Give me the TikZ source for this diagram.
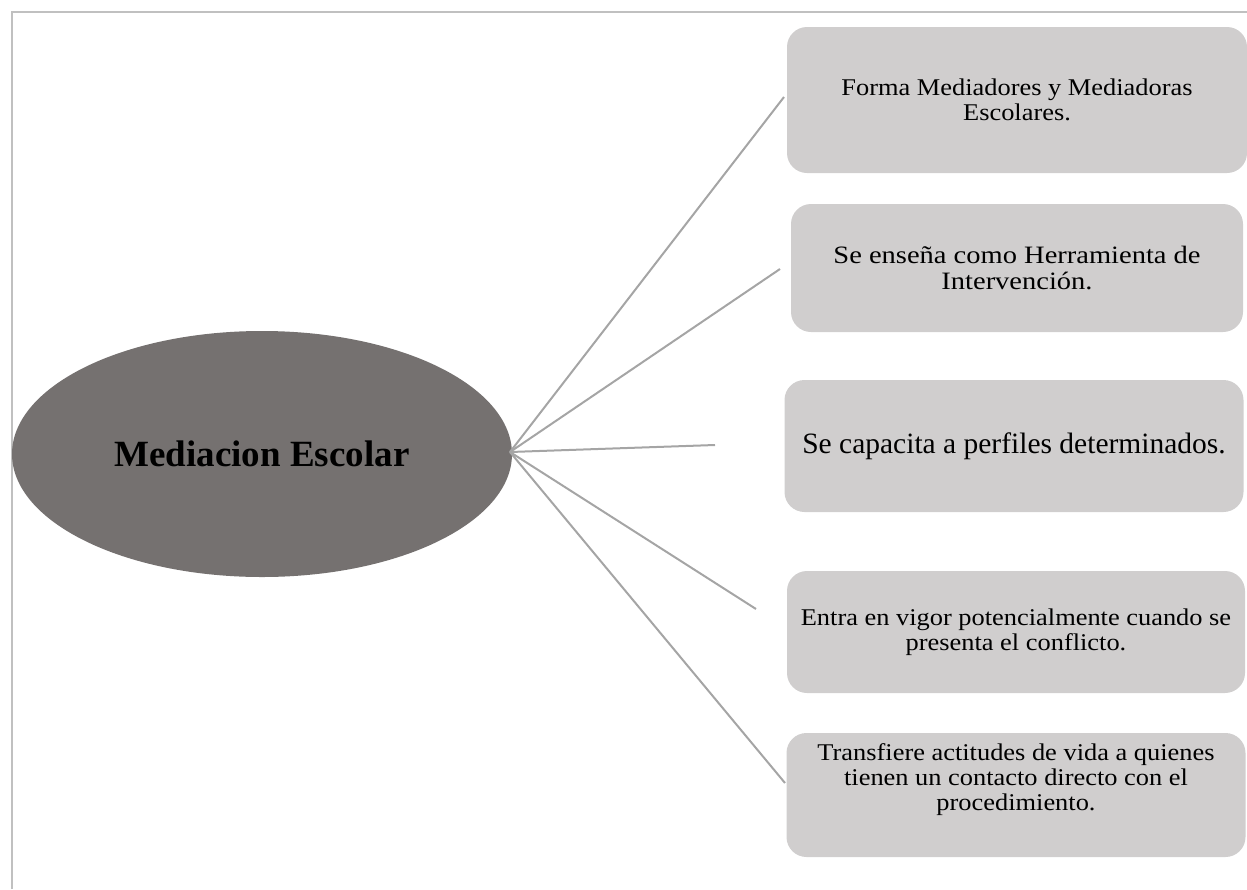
\documentclass[tikz,border=0pt]{standalone}
\usepackage{fontspec}
\setmainfont{Liberation Serif}
\newfontfamily\wideserif[FakeStretch=1.1]{Liberation Serif}
\newfontfamily\widerserif[FakeStretch=1.14]{Liberation Serif}
\usetikzlibrary{shapes.geometric}

\definecolor{hubgray}{HTML}{757170}
\definecolor{boxgray}{HTML}{D0CECE}
\definecolor{linegray}{HTML}{A5A5A5}
\definecolor{framegray}{HTML}{C0C0C0}

\tikzset{
  itembox/.style={fill=boxgray, rounded corners=20pt, inner sep=0pt, align=center,
                  font=\wideserif\fontsize{24}{25.5}\selectfont},
  spoke/.style={draw=linegray, line width=2pt}
}

\begin{document}
\begin{tikzpicture}[x=1pt, y=-1pt]
        \useasboundingbox (0,0) rectangle (1247,889);
        \draw [framegray, line width=2pt] (12,889) -- (12,12) -- (1247,12);

        \node [ellipse, fill=hubgray, inner sep=0pt, minimum width=500pt, minimum height=246pt,
               font=\fontsize{37}{40}\selectfont\bfseries] (med) at (262,454) {Mediacion Escolar};

        \node [itembox, minimum width=460pt, minimum height=146pt] (forma) at (1017,100)
              {Forma Mediadores y Mediadoras\\Escolares.};
        \node [itembox, minimum width=452pt, minimum height=128pt,
               font=\widerserif\fontsize{25}{25.5}\selectfont] (ensena) at (1017,268)
              {Se enseña como Herramienta de\\Intervención.};
        \node [itembox, minimum width=459pt, minimum height=132pt,
               font=\fontsize{29.5}{30}\selectfont] (capacita) at (1014,446)
              {Se capacita a perfiles determinados.};
        \node [itembox, minimum width=458pt, minimum height=122pt] (vigor) at (1016,632)
              {Entra en vigor potencialmente cuando se\\presenta el conflicto.};
        \node [itembox, minimum width=459pt, minimum height=124pt] (transf) at (1016,795) {};
        \node [align=center, font=\wideserif\fontsize{24}{25}\selectfont] (transftxt) at (1016,780)
              {Transfiere actitudes de vida a quienes\\tienen un contacto directo con el\\procedimiento.};

        \coordinate (hub) at (510,452);
        \coordinate (e1) at (784,97);
        \coordinate (e2) at (780,269);
        \coordinate (e3) at (715,445);
        \coordinate (e4) at (756,609);
        \coordinate (e5) at (785,783);

        \draw [spoke] (hub) -- (e1);
        \draw [spoke] (hub) -- (e2);
        \draw [spoke] (hub) -- (e3);
        \draw [spoke] (hub) -- (e4);
        \draw [spoke] (hub) -- (e5);
    \end{tikzpicture}
\end{document}
